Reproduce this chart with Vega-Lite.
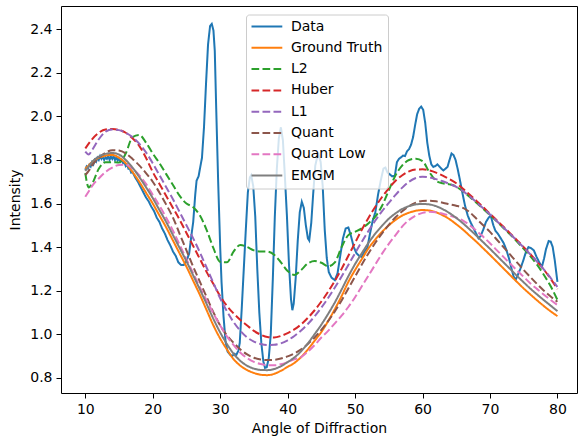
{
  "$schema": "https://vega.github.io/schema/vega-lite/v6.json",
  "autosize": "none",
  "width": 516,
  "height": 387,
  "padding": {"left": 61, "top": 6, "right": 3, "bottom": 44},
  "background": "white",
  "config": {
    "font": "DejaVu Sans",
    "view": {"stroke": "#000000", "strokeWidth": 1},
    "axis": {"grid": false, "domain": false, "ticks": true, "tickColor": "#000000", "tickSize": 5, "tickWidth": 1, "labelColor": "#000000", "labelFontSize": 14, "titleFontSize": 14, "titleFontWeight": "normal", "titleColor": "#000000", "labelFont": "DejaVu Sans", "titleFont": "DejaVu Sans"},
    "legend": {"orient": "none", "legendX": 185, "legendY": 8.5, "symbolType": "M-2.8,0L2.8,0", "symbolSize": 121, "symbolStrokeWidth": 2, "symbolOffset": 8.9, "labelFontSize": 14, "labelFont": "DejaVu Sans", "labelColor": "#000000", "labelOffset": 17, "rowPadding": 7.3, "padding": 5, "fillColor": "rgba(255,255,255,0.8)", "strokeColor": "#cccccc", "cornerRadius": 3, "labelLimit": 200}
  },
  "datasets": {
    "raw": [
      {"x":10.0,"Data":1.755},{"x":10.2,"Data":1.770},{"x":10.4,"Data":1.762},{"x":10.6,"Data":1.778},{"x":10.8,"Data":1.770},
      {"x":11.0,"Data":1.790},{"x":11.2,"Data":1.780},{"x":11.4,"Data":1.800},{"x":11.6,"Data":1.792},{"x":11.8,"Data":1.810},
      {"x":12.0,"Data":1.800},{"x":12.2,"Data":1.818},{"x":12.4,"Data":1.805},{"x":12.6,"Data":1.815},{"x":12.8,"Data":1.800},
      {"x":13.0,"Data":1.812},{"x":13.2,"Data":1.805},{"x":13.4,"Data":1.820},{"x":13.6,"Data":1.800},{"x":13.8,"Data":1.815},
      {"x":14.0,"Data":1.805},{"x":14.2,"Data":1.818},{"x":14.4,"Data":1.800},{"x":14.6,"Data":1.812},{"x":14.8,"Data":1.798},
      {"x":15.0,"Data":1.808},{"x":15.2,"Data":1.792},{"x":15.4,"Data":1.800},{"x":15.6,"Data":1.785},{"x":15.8,"Data":1.790},
      {"x":16.0,"Data":1.772},{"x":16.2,"Data":1.778},{"x":16.4,"Data":1.760},{"x":16.6,"Data":1.762},{"x":16.8,"Data":1.742},
      {"x":17.0,"Data":1.745},{"x":17.4,"Data":1.720},{"x":17.8,"Data":1.700},{"x":18.2,"Data":1.676},{"x":18.6,"Data":1.652},
      {"x":19.0,"Data":1.628},{"x":19.4,"Data":1.610},{"x":19.8,"Data":1.585},{"x":20.2,"Data":1.565},{"x":20.6,"Data":1.535},
      {"x":21.0,"Data":1.515},{"x":21.4,"Data":1.485},{"x":21.8,"Data":1.462},{"x":22.2,"Data":1.432},{"x":22.6,"Data":1.408},
      {"x":23.0,"Data":1.380},{"x":23.4,"Data":1.360},{"x":23.8,"Data":1.330},{"x":24.2,"Data":1.318},{"x":24.6,"Data":1.318},
      {"x":25.0,"Data":1.335},{"x":25.4,"Data":1.370},{"x":25.8,"Data":1.470},{"x":26.0,"Data":1.515},{"x":26.3,"Data":1.640},
      {"x":26.5,"Data":1.705},{"x":26.8,"Data":1.725},{"x":27.0,"Data":1.760},{"x":27.3,"Data":1.810},{"x":27.6,"Data":1.950},
      {"x":27.9,"Data":2.150},{"x":28.2,"Data":2.330},{"x":28.5,"Data":2.415},{"x":28.75,"Data":2.425},{"x":29.0,"Data":2.395},
      {"x":29.2,"Data":2.300},{"x":29.4,"Data":2.050},{"x":29.7,"Data":1.700},{"x":30.0,"Data":1.400},{"x":30.2,"Data":1.240},
      {"x":30.5,"Data":1.080},{"x":30.8,"Data":0.965},{"x":31.1,"Data":0.920},{"x":31.5,"Data":0.905},{"x":31.8,"Data":0.900},
      {"x":32.1,"Data":0.910},{"x":32.4,"Data":0.905},{"x":32.7,"Data":0.925},{"x":32.9,"Data":0.960},{"x":33.2,"Data":1.120},
      {"x":33.5,"Data":1.300},{"x":33.8,"Data":1.480},{"x":34.1,"Data":1.650},{"x":34.4,"Data":1.720},{"x":34.6,"Data":1.730},
      {"x":34.9,"Data":1.680},{"x":35.2,"Data":1.540},{"x":35.5,"Data":1.300},{"x":35.8,"Data":1.100},{"x":36.1,"Data":0.960},
      {"x":36.4,"Data":0.875},{"x":36.65,"Data":0.845},{"x":36.9,"Data":0.848},{"x":37.2,"Data":0.890},{"x":37.5,"Data":1.000},
      {"x":37.8,"Data":1.250},{"x":38.1,"Data":1.540},{"x":38.4,"Data":1.760},{"x":38.7,"Data":1.900},{"x":39.0,"Data":1.950},
      {"x":39.3,"Data":1.890},{"x":39.6,"Data":1.720},{"x":39.9,"Data":1.540},{"x":40.2,"Data":1.320},{"x":40.5,"Data":1.160},
      {"x":40.7,"Data":1.110},{"x":40.9,"Data":1.140},{"x":41.2,"Data":1.260},{"x":41.5,"Data":1.430},{"x":41.8,"Data":1.560},
      {"x":42.1,"Data":1.608},{"x":42.4,"Data":1.580},{"x":42.7,"Data":1.500},{"x":43.0,"Data":1.440},{"x":43.2,"Data":1.430},
      {"x":43.5,"Data":1.510},{"x":43.8,"Data":1.650},{"x":44.1,"Data":1.775},{"x":44.4,"Data":1.815},{"x":44.6,"Data":1.825},
      {"x":44.9,"Data":1.790},{"x":45.2,"Data":1.680},{"x":45.5,"Data":1.480},{"x":45.8,"Data":1.350},{"x":46.1,"Data":1.285},
      {"x":46.5,"Data":1.260},{"x":47.0,"Data":1.248},{"x":47.4,"Data":1.280},{"x":47.8,"Data":1.360},{"x":48.2,"Data":1.440},
      {"x":48.6,"Data":1.485},{"x":49.0,"Data":1.490},{"x":49.4,"Data":1.450},{"x":49.8,"Data":1.400},{"x":50.2,"Data":1.372},
      {"x":50.6,"Data":1.360},{"x":51.0,"Data":1.355},{"x":51.4,"Data":1.380},{"x":51.8,"Data":1.395},{"x":52.2,"Data":1.460},
      {"x":52.6,"Data":1.520},{"x":53.0,"Data":1.560},{"x":53.4,"Data":1.640},{"x":53.8,"Data":1.705},{"x":54.2,"Data":1.760},
      {"x":54.5,"Data":1.765},{"x":54.8,"Data":1.742},{"x":55.1,"Data":1.735},{"x":55.5,"Data":1.725},{"x":55.9,"Data":1.728},
      {"x":56.2,"Data":1.790},{"x":56.5,"Data":1.805},{"x":56.8,"Data":1.812},{"x":57.1,"Data":1.820},{"x":57.4,"Data":1.818},
      {"x":57.7,"Data":1.840},{"x":58.0,"Data":1.850},{"x":58.3,"Data":1.870},{"x":58.6,"Data":1.905},{"x":58.9,"Data":1.960},
      {"x":59.2,"Data":2.010},{"x":59.5,"Data":2.035},{"x":59.8,"Data":2.045},{"x":60.1,"Data":2.030},{"x":60.4,"Data":1.970},
      {"x":60.7,"Data":1.880},{"x":61.0,"Data":1.820},{"x":61.3,"Data":1.780},{"x":61.6,"Data":1.768},{"x":61.9,"Data":1.772},
      {"x":62.2,"Data":1.780},{"x":62.5,"Data":1.770},{"x":62.8,"Data":1.760},{"x":63.1,"Data":1.752},{"x":63.4,"Data":1.760},
      {"x":63.7,"Data":1.768},{"x":64.0,"Data":1.800},{"x":64.3,"Data":1.830},{"x":64.6,"Data":1.822},{"x":64.9,"Data":1.800},
      {"x":65.2,"Data":1.760},{"x":65.5,"Data":1.715},{"x":65.9,"Data":1.650},{"x":66.3,"Data":1.590},{"x":66.7,"Data":1.545},
      {"x":67.1,"Data":1.515},{"x":67.5,"Data":1.490},{"x":67.9,"Data":1.465},{"x":68.3,"Data":1.440},{"x":68.6,"Data":1.450},
      {"x":69.0,"Data":1.480},{"x":69.4,"Data":1.515},{"x":69.8,"Data":1.535},{"x":70.1,"Data":1.545},{"x":70.5,"Data":1.500},
      {"x":70.8,"Data":1.475},{"x":71.2,"Data":1.460},{"x":71.6,"Data":1.440},{"x":72.0,"Data":1.420},{"x":72.4,"Data":1.390},
      {"x":72.8,"Data":1.350},{"x":73.2,"Data":1.300},{"x":73.5,"Data":1.265},{"x":73.8,"Data":1.250},{"x":74.1,"Data":1.270},
      {"x":74.5,"Data":1.300},{"x":74.9,"Data":1.335},{"x":75.3,"Data":1.375},{"x":75.7,"Data":1.400},{"x":76.1,"Data":1.395},
      {"x":76.5,"Data":1.385},{"x":76.9,"Data":1.355},{"x":77.3,"Data":1.330},{"x":77.7,"Data":1.310},{"x":78.0,"Data":1.345},
      {"x":78.3,"Data":1.390},{"x":78.7,"Data":1.428},{"x":79.0,"Data":1.425},{"x":79.3,"Data":1.400},{"x":79.6,"Data":1.340},
      {"x":79.8,"Data":1.290},{"x":80.0,"Data":1.240}
    ],
    "fits": [
      {"x":10,"Ground Truth":1.760,"L2":1.740,"Huber":1.853,"L1":1.838,"Quant":1.731,"Quant Low":1.631,"EMGM":1.750},
      {"x":10.5,"Ground Truth":1.775,"L2":1.674,"Huber":1.875,"L1":1.825,"Quant":1.750,"Quant Low":1.655,"EMGM":1.770},
      {"x":11,"Ground Truth":1.790,"L2":1.690,"Huber":1.895,"L1":1.845,"Quant":1.775,"Quant Low":1.680,"EMGM":1.790},
      {"x":12,"Ground Truth":1.810,"L2":1.760,"Huber":1.925,"L1":1.895,"Quant":1.810,"Quant Low":1.715,"EMGM":1.815},
      {"x":13,"Ground Truth":1.820,"L2":1.790,"Huber":1.940,"L1":1.930,"Quant":1.833,"Quant Low":1.745,"EMGM":1.828},
      {"x":14,"Ground Truth":1.823,"L2":1.790,"Huber":1.942,"L1":1.940,"Quant":1.845,"Quant Low":1.765,"EMGM":1.832},
      {"x":15,"Ground Truth":1.810,"L2":1.788,"Huber":1.938,"L1":1.937,"Quant":1.843,"Quant Low":1.777,"EMGM":1.825},
      {"x":16,"Ground Truth":1.785,"L2":1.830,"Huber":1.925,"L1":1.925,"Quant":1.830,"Quant Low":1.778,"EMGM":1.800},
      {"x":17,"Ground Truth":1.745,"L2":1.905,"Huber":1.900,"L1":1.905,"Quant":1.805,"Quant Low":1.760,"EMGM":1.765},
      {"x":18,"Ground Truth":1.700,"L2":1.915,"Huber":1.865,"L1":1.875,"Quant":1.775,"Quant Low":1.730,"EMGM":1.722},
      {"x":19,"Ground Truth":1.650,"L2":1.880,"Huber":1.810,"L1":1.835,"Quant":1.740,"Quant Low":1.690,"EMGM":1.675},
      {"x":20,"Ground Truth":1.600,"L2":1.830,"Huber":1.745,"L1":1.785,"Quant":1.700,"Quant Low":1.640,"EMGM":1.625},
      {"x":21,"Ground Truth":1.545,"L2":1.785,"Huber":1.690,"L1":1.730,"Quant":1.650,"Quant Low":1.590,"EMGM":1.570},
      {"x":22,"Ground Truth":1.490,"L2":1.735,"Huber":1.635,"L1":1.675,"Quant":1.595,"Quant Low":1.535,"EMGM":1.515},
      {"x":23,"Ground Truth":1.430,"L2":1.685,"Huber":1.580,"L1":1.620,"Quant":1.535,"Quant Low":1.475,"EMGM":1.455},
      {"x":24,"Ground Truth":1.370,"L2":1.635,"Huber":1.525,"L1":1.560,"Quant":1.460,"Quant Low":1.410,"EMGM":1.395},
      {"x":25,"Ground Truth":1.310,"L2":1.600,"Huber":1.465,"L1":1.500,"Quant":1.385,"Quant Low":1.345,"EMGM":1.335},
      {"x":26,"Ground Truth":1.245,"L2":1.583,"Huber":1.405,"L1":1.440,"Quant":1.310,"Quant Low":1.280,"EMGM":1.270},
      {"x":27,"Ground Truth":1.180,"L2":1.545,"Huber":1.345,"L1":1.375,"Quant":1.240,"Quant Low":1.215,"EMGM":1.205},
      {"x":28,"Ground Truth":1.110,"L2":1.478,"Huber":1.285,"L1":1.305,"Quant":1.170,"Quant Low":1.155,"EMGM":1.138},
      {"x":29,"Ground Truth":1.040,"L2":1.395,"Huber":1.230,"L1":1.235,"Quant":1.100,"Quant Low":1.095,"EMGM":1.070},
      {"x":30,"Ground Truth":0.980,"L2":1.332,"Huber":1.175,"L1":1.165,"Quant":1.040,"Quant Low":1.040,"EMGM":1.008},
      {"x":31,"Ground Truth":0.930,"L2":1.330,"Huber":1.130,"L1":1.105,"Quant":0.995,"Quant Low":0.990,"EMGM":0.955},
      {"x":32,"Ground Truth":0.885,"L2":1.380,"Huber":1.095,"L1":1.055,"Quant":0.960,"Quant Low":0.950,"EMGM":0.910},
      {"x":33,"Ground Truth":0.855,"L2":1.410,"Huber":1.065,"L1":1.015,"Quant":0.930,"Quant Low":0.915,"EMGM":0.877},
      {"x":34,"Ground Truth":0.835,"L2":1.400,"Huber":1.040,"L1":0.985,"Quant":0.907,"Quant Low":0.890,"EMGM":0.855},
      {"x":35,"Ground Truth":0.822,"L2":1.385,"Huber":1.015,"L1":0.966,"Quant":0.892,"Quant Low":0.873,"EMGM":0.842},
      {"x":36,"Ground Truth":0.814,"L2":1.380,"Huber":0.998,"L1":0.955,"Quant":0.884,"Quant Low":0.863,"EMGM":0.836},
      {"x":37,"Ground Truth":0.812,"L2":1.379,"Huber":0.987,"L1":0.950,"Quant":0.881,"Quant Low":0.858,"EMGM":0.835},
      {"x":38,"Ground Truth":0.818,"L2":1.365,"Huber":0.985,"L1":0.951,"Quant":0.882,"Quant Low":0.857,"EMGM":0.840},
      {"x":39,"Ground Truth":0.832,"L2":1.330,"Huber":0.992,"L1":0.958,"Quant":0.888,"Quant Low":0.862,"EMGM":0.853},
      {"x":40,"Ground Truth":0.850,"L2":1.290,"Huber":1.005,"L1":0.972,"Quant":0.898,"Quant Low":0.872,"EMGM":0.872},
      {"x":41,"Ground Truth":0.868,"L2":1.272,"Huber":1.022,"L1":0.992,"Quant":0.912,"Quant Low":0.885,"EMGM":0.893},
      {"x":42,"Ground Truth":0.895,"L2":1.295,"Huber":1.045,"L1":1.017,"Quant":0.930,"Quant Low":0.895,"EMGM":0.922},
      {"x":43,"Ground Truth":0.930,"L2":1.325,"Huber":1.075,"L1":1.047,"Quant":0.955,"Quant Low":0.920,"EMGM":0.958},
      {"x":44,"Ground Truth":0.970,"L2":1.336,"Huber":1.110,"L1":1.082,"Quant":0.985,"Quant Low":0.950,"EMGM":1.000},
      {"x":45,"Ground Truth":1.010,"L2":1.328,"Huber":1.150,"L1":1.122,"Quant":1.020,"Quant Low":0.985,"EMGM":1.044},
      {"x":46,"Ground Truth":1.060,"L2":1.312,"Huber":1.195,"L1":1.166,"Quant":1.060,"Quant Low":1.015,"EMGM":1.093},
      {"x":47,"Ground Truth":1.115,"L2":1.330,"Huber":1.245,"L1":1.214,"Quant":1.105,"Quant Low":1.050,"EMGM":1.146},
      {"x":48,"Ground Truth":1.175,"L2":1.400,"Huber":1.300,"L1":1.265,"Quant":1.155,"Quant Low":1.085,"EMGM":1.205},
      {"x":49,"Ground Truth":1.240,"L2":1.455,"Huber":1.360,"L1":1.318,"Quant":1.210,"Quant Low":1.125,"EMGM":1.266},
      {"x":50,"Ground Truth":1.295,"L2":1.470,"Huber":1.420,"L1":1.372,"Quant":1.265,"Quant Low":1.170,"EMGM":1.322},
      {"x":51,"Ground Truth":1.345,"L2":1.486,"Huber":1.480,"L1":1.425,"Quant":1.320,"Quant Low":1.220,"EMGM":1.372},
      {"x":52,"Ground Truth":1.395,"L2":1.510,"Huber":1.535,"L1":1.475,"Quant":1.372,"Quant Low":1.270,"EMGM":1.420},
      {"x":53,"Ground Truth":1.435,"L2":1.540,"Huber":1.585,"L1":1.522,"Quant":1.420,"Quant Low":1.320,"EMGM":1.462},
      {"x":54,"Ground Truth":1.470,"L2":1.590,"Huber":1.630,"L1":1.565,"Quant":1.463,"Quant Low":1.370,"EMGM":1.498},
      {"x":55,"Ground Truth":1.500,"L2":1.660,"Huber":1.670,"L1":1.603,"Quant":1.502,"Quant Low":1.415,"EMGM":1.530},
      {"x":56,"Ground Truth":1.525,"L2":1.730,"Huber":1.705,"L1":1.640,"Quant":1.537,"Quant Low":1.455,"EMGM":1.555},
      {"x":57,"Ground Truth":1.545,"L2":1.775,"Huber":1.730,"L1":1.673,"Quant":1.565,"Quant Low":1.495,"EMGM":1.575},
      {"x":58,"Ground Truth":1.558,"L2":1.800,"Huber":1.748,"L1":1.700,"Quant":1.588,"Quant Low":1.525,"EMGM":1.588},
      {"x":59,"Ground Truth":1.567,"L2":1.806,"Huber":1.756,"L1":1.717,"Quant":1.604,"Quant Low":1.545,"EMGM":1.596},
      {"x":60,"Ground Truth":1.570,"L2":1.795,"Huber":1.757,"L1":1.723,"Quant":1.612,"Quant Low":1.557,"EMGM":1.598},
      {"x":61,"Ground Truth":1.568,"L2":1.745,"Huber":1.752,"L1":1.720,"Quant":1.613,"Quant Low":1.562,"EMGM":1.596},
      {"x":62,"Ground Truth":1.560,"L2":1.705,"Huber":1.742,"L1":1.712,"Quant":1.610,"Quant Low":1.560,"EMGM":1.588},
      {"x":63,"Ground Truth":1.546,"L2":1.693,"Huber":1.728,"L1":1.702,"Quant":1.604,"Quant Low":1.553,"EMGM":1.574},
      {"x":64,"Ground Truth":1.528,"L2":1.688,"Huber":1.712,"L1":1.690,"Quant":1.597,"Quant Low":1.545,"EMGM":1.556},
      {"x":65,"Ground Truth":1.505,"L2":1.678,"Huber":1.693,"L1":1.676,"Quant":1.590,"Quant Low":1.535,"EMGM":1.534},
      {"x":66,"Ground Truth":1.480,"L2":1.655,"Huber":1.668,"L1":1.657,"Quant":1.580,"Quant Low":1.522,"EMGM":1.509},
      {"x":67,"Ground Truth":1.452,"L2":1.630,"Huber":1.640,"L1":1.632,"Quant":1.560,"Quant Low":1.500,"EMGM":1.481},
      {"x":68,"Ground Truth":1.424,"L2":1.603,"Huber":1.612,"L1":1.606,"Quant":1.530,"Quant Low":1.475,"EMGM":1.452},
      {"x":69,"Ground Truth":1.394,"L2":1.575,"Huber":1.583,"L1":1.578,"Quant":1.500,"Quant Low":1.447,"EMGM":1.422},
      {"x":70,"Ground Truth":1.364,"L2":1.547,"Huber":1.553,"L1":1.550,"Quant":1.470,"Quant Low":1.418,"EMGM":1.392},
      {"x":71,"Ground Truth":1.333,"L2":1.518,"Huber":1.523,"L1":1.520,"Quant":1.435,"Quant Low":1.386,"EMGM":1.361},
      {"x":72,"Ground Truth":1.302,"L2":1.488,"Huber":1.493,"L1":1.490,"Quant":1.400,"Quant Low":1.355,"EMGM":1.330},
      {"x":73,"Ground Truth":1.271,"L2":1.458,"Huber":1.463,"L1":1.460,"Quant":1.365,"Quant Low":1.324,"EMGM":1.299},
      {"x":74,"Ground Truth":1.240,"L2":1.425,"Huber":1.432,"L1":1.429,"Quant":1.330,"Quant Low":1.293,"EMGM":1.268},
      {"x":75,"Ground Truth":1.210,"L2":1.392,"Huber":1.400,"L1":1.398,"Quant":1.295,"Quant Low":1.263,"EMGM":1.238},
      {"x":76,"Ground Truth":1.182,"L2":1.357,"Huber":1.367,"L1":1.366,"Quant":1.262,"Quant Low":1.233,"EMGM":1.209},
      {"x":77,"Ground Truth":1.155,"L2":1.318,"Huber":1.332,"L1":1.332,"Quant":1.230,"Quant Low":1.207,"EMGM":1.182},
      {"x":78,"Ground Truth":1.129,"L2":1.272,"Huber":1.296,"L1":1.297,"Quant":1.200,"Quant Low":1.181,"EMGM":1.156},
      {"x":79,"Ground Truth":1.105,"L2":1.220,"Huber":1.254,"L1":1.258,"Quant":1.173,"Quant Low":1.157,"EMGM":1.131},
      {"x":80,"Ground Truth":1.083,"L2":1.157,"Huber":1.207,"L1":1.217,"Quant":1.149,"Quant Low":1.134,"EMGM":1.106}
    ]
  },
  "encoding": {
    "x": {"field": "x", "type": "quantitative", "scale": {"domain": [6.4, 82.9], "nice": false, "zero": false}, "axis": {"title": "Angle of Diffraction", "values": [10, 20, 30, 40, 50, 60, 70, 80], "labelPadding": 4, "titlePadding": 5}},
    "y": {"field": "value", "type": "quantitative", "scale": {"domain": [0.73, 2.507], "nice": false, "zero": false}, "axis": {"title": "Intensity", "values": [0.8, 1.0, 1.2, 1.4, 1.6, 1.8, 2.0, 2.2, 2.4], "format": ".1f", "labelPadding": 4, "titlePadding": 7}},
    "color": {"field": "key", "type": "nominal", "scale": {"domain": ["Data", "Ground Truth", "L2", "Huber", "L1", "Quant", "Quant Low", "EMGM"], "range": ["#1f77b4", "#ff7f0e", "#2ca02c", "#d62728", "#9467bd", "#8c564b", "#e377c2", "#7f7f7f"]}, "legend": {"title": null}},
    "strokeDash": {"field": "key", "type": "nominal", "scale": {"domain": ["Data", "Ground Truth", "L2", "Huber", "L1", "Quant", "Quant Low", "EMGM"], "range": [[1, 0], [1, 0], [7.7, 3.3], [7.7, 3.3], [7.7, 3.3], [7.7, 3.3], [7.7, 3.3], [1, 0]]}, "legend": {"title": null}}
  },
  "layer": [
    {
      "data": {"name": "raw"},
      "transform": [{"fold": ["Data"], "as": ["key", "value"]}],
      "mark": {"type": "line", "strokeWidth": 2, "clip": true}
    },
    {
      "data": {"name": "fits"},
      "transform": [{"fold": ["Ground Truth", "L2", "Huber", "L1", "Quant", "Quant Low", "EMGM"], "as": ["key", "value"]}],
      "mark": {"type": "line", "strokeWidth": 2, "interpolate": "monotone", "clip": true}
    }
  ]
}
